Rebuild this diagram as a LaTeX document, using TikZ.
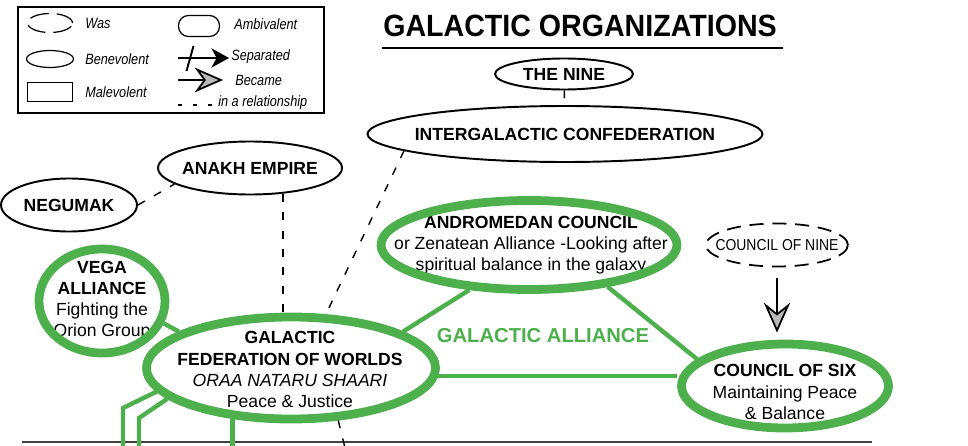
\documentclass[tikz,border=0pt]{standalone}
\usepackage{fontspec}
\setmainfont{Liberation Sans}
\newfontfamily\titlefont[FakeStretch=0.93]{Liberation Sans}
\newfontfamily\legendfont[FakeStretch=0.85]{Liberation Sans}
\newfontfamily\narrowfont[FakeStretch=0.88]{Liberation Sans}
\usetikzlibrary{calc, arrows.meta, shapes.geometric}
\tikzset{>=latex}
\definecolor{galgreen}{RGB}{77,176,77}

\begin{document}
\begin{tikzpicture}
    [
        black_node/.style={ellipse, draw=black, line width=1.1pt, inner sep=0pt},
        green_node/.style={ellipse, draw=galgreen, line width=5pt, inner sep=0pt},
        green_text/.style={align=center, inner sep=0pt, font=\fontsize{10}{12}\selectfont},
        every label/.style={font=\bfseries\fontsize{10}{12}\selectfont},
        rel/.style={dash pattern=on 4.5pt off 6pt, line width=0.8pt},
        alliance/.style={draw=galgreen, line width=2.5pt},
        became/.style={line width=1pt, -{Stealth[length=16pt, width=14pt, inset=5pt, fill=gray!55]}},
        big_became/.style={line width=1pt, -{Stealth[length=17pt, width=15pt, inset=6pt, fill=gray!55]}},
        legend_text/.style={anchor=west, inner sep=0pt, font=\legendfont\itshape\fontsize{8.5}{10}\selectfont},
        legend_shape/.style={draw=black, line width=0.7pt, inner sep=0pt},
    ]
  \useasboundingbox (0,0) rectangle (19.36,-8.92);

  \draw[line width=0.9pt] (0.36,-0.14) rectangle (6.48,-2.26);
  \node[legend_shape, ellipse, dash pattern=on 11pt off 4.5pt, minimum width=0.9cm, minimum height=0.38cm] (was) at (1.0,-0.46) {};
  \node[legend_shape, ellipse, minimum width=0.94cm, minimum height=0.34cm] (benev) at (1.0,-1.18) {};
  \node[legend_shape, rectangle, minimum width=0.9cm, minimum height=0.38cm] (malev) at (1.0,-1.84) {};
  \node[legend_shape, rectangle, rounded corners=0.2cm, minimum width=0.82cm, minimum height=0.42cm] (ambiv) at (3.98,-0.52) {};
  \node[legend_text] (was_t) at (1.70,-0.46) {Was};
  \node[legend_text] (benev_t) at (1.70,-1.18) {Benevolent};
  \node[legend_text] (malev_t) at (1.70,-1.84) {Malevolent};
  \node[legend_text] (ambiv_t) at (4.68,-0.48) {Ambivalent};
  \node[legend_text] (sep_t) at (4.62,-1.14) {Separated};
  \node[legend_text] (bec_t) at (4.70,-1.60) {Became};
  \node[legend_text] (rel_t) at (4.36,-2.06) {in a relationship};
  \coordinate (sep_a) at (3.56,-1.16);
  \coordinate (sep_b) at (4.58,-1.16);
  \coordinate (cut_a) at (3.73,-1.42);
  \coordinate (cut_b) at (3.87,-0.92);
  \coordinate (bec_a) at (3.56,-1.60);
  \coordinate (bec_b) at (4.46,-1.60);
  \coordinate (rel_a) at (3.56,-2.10);
  \coordinate (rel_b) at (4.24,-2.10);
  \draw[line width=1.1pt, -{Stealth[length=10pt, width=11pt, inset=3pt]}] (sep_a) -- (sep_b);
  \draw[line width=1.1pt] (cut_a) -- (cut_b);
  \draw[became] (bec_a) -- (bec_b);
  \draw[line width=0.8pt, dash pattern=on 2.5pt off 6pt] (rel_a) -- (rel_b);

  \node[font=\titlefont\bfseries\fontsize{17.5}{20}\selectfont, inner sep=0pt] (title) at (11.6,-0.52) {GALACTIC ORGANIZATIONS};
  \draw[line width=1.1pt] (7.64,-0.96) -- (15.66,-0.96);

  \node[black_node, minimum width=2.76cm, minimum height=0.62cm, label=center:THE NINE] (NINE) at (11.28,-1.48) {};
  \node[black_node, minimum width=7.9cm, minimum height=1.12cm, label=center:INTERGALACTIC CONFEDERATION] (IC) at (11.30,-2.68) {};
  \node[black_node, minimum width=3.68cm, minimum height=1.06cm, label=center:ANAKH EMPIRE] (ANAKH) at (5.0,-3.36) {};
  \node[black_node, minimum width=2.72cm, minimum height=1.06cm, label=center:NEGUMAK] (NEG) at (1.38,-4.10) {};
  \node[black_node, line width=1pt, dash pattern=on 8pt off 5pt, minimum width=2.84cm, minimum height=0.86cm,
        label={[font=\narrowfont\fontsize{9}{11}\selectfont]center:COUNCIL OF NINE}] (C9) at (15.54,-4.90) {};

  \draw[draw=black!75, line width=0.8pt] (0.44,-8.84) -- (17.44,-8.84);

  \node[green_text] (VEGA_t) at (2.04,-6.01) {\textbf{VEGA}\\\textbf{ALLIANCE}\\Fighting the\\Orion Group};
  \node[green_text] (GFW_t) at (5.80,-7.39) {\textbf{GALACTIC}\\\textbf{FEDERATION OF WORLDS}\\\textit{ORAA NATARU SHAARI}\\Peace \& Justice};
  \node[green_text] (AND_t) at (10.62,-4.91) {\textbf{ANDROMEDAN COUNCIL}\\or Zenatean Alliance -Looking after\\spiritual balance in the galaxy};
  \node[green_text] (C6_t) at (15.70,-7.84) {\textbf{COUNCIL OF SIX}\\Maintaining Peace\\\& Balance};

  \node[green_node, minimum width=2.52cm, minimum height=2.08cm] (VEGA) at (2.04,-6.02) {};
  \node[green_node, minimum width=5.78cm, minimum height=2.04cm] (GFW) at (5.82,-7.36) {};
  \node[green_node, minimum width=5.92cm, minimum height=1.78cm] (AND) at (10.58,-4.90) {};
  \node[green_node, minimum width=4.14cm, minimum height=1.68cm] (C6) at (15.70,-7.72) {};

  \node[text=galgreen, font=\bfseries\fontsize{11.5}{14}\selectfont] (GA) at (10.86,-6.72) {GALACTIC ALLIANCE};

  \coordinate (rel_end) at (6.92,-9.04);
  \draw[rel] (NINE) -- (IC);
  \draw[rel] (IC.-174) -- (GFW.57);
  \draw[rel] (GFW.-48) -- (rel_end);
  \draw[rel] (ANAKH.-38) -- (ANAKH.-38 |- GFW.north);
  \draw[rel] (NEG.east) -- (ANAKH.-168);

  \coordinate (L1_bend) at (2.46,-8.16);
  \coordinate (L1_end) at (2.46,-9.2);
  \coordinate (L2_bend) at (2.78,-8.36);
  \coordinate (L2_end) at (2.78,-9.2);
  \draw[alliance] (VEGA.-20) -- (GFW.162);
  \draw[alliance] (AND.-143) -- (GFW.18);
  \draw[alliance] (AND.-28) -- (C6.163);
  \draw[alliance] (GFW.-3) -- (GFW.-3 -| C6.west);
  \draw[alliance] (GFW.190) -- (L1_bend) -- (L1_end);
  \draw[alliance] (GFW.194) -- (L2_bend) -- (L2_end);
  \draw[alliance] (GFW.221) -- (GFW.221 |- L1_end);

  \draw[big_became, shorten <=0.22cm, shorten >=0.14cm] (C9.south) -- (C9.south |- C6.north);
\end{tikzpicture}
\end{document}
